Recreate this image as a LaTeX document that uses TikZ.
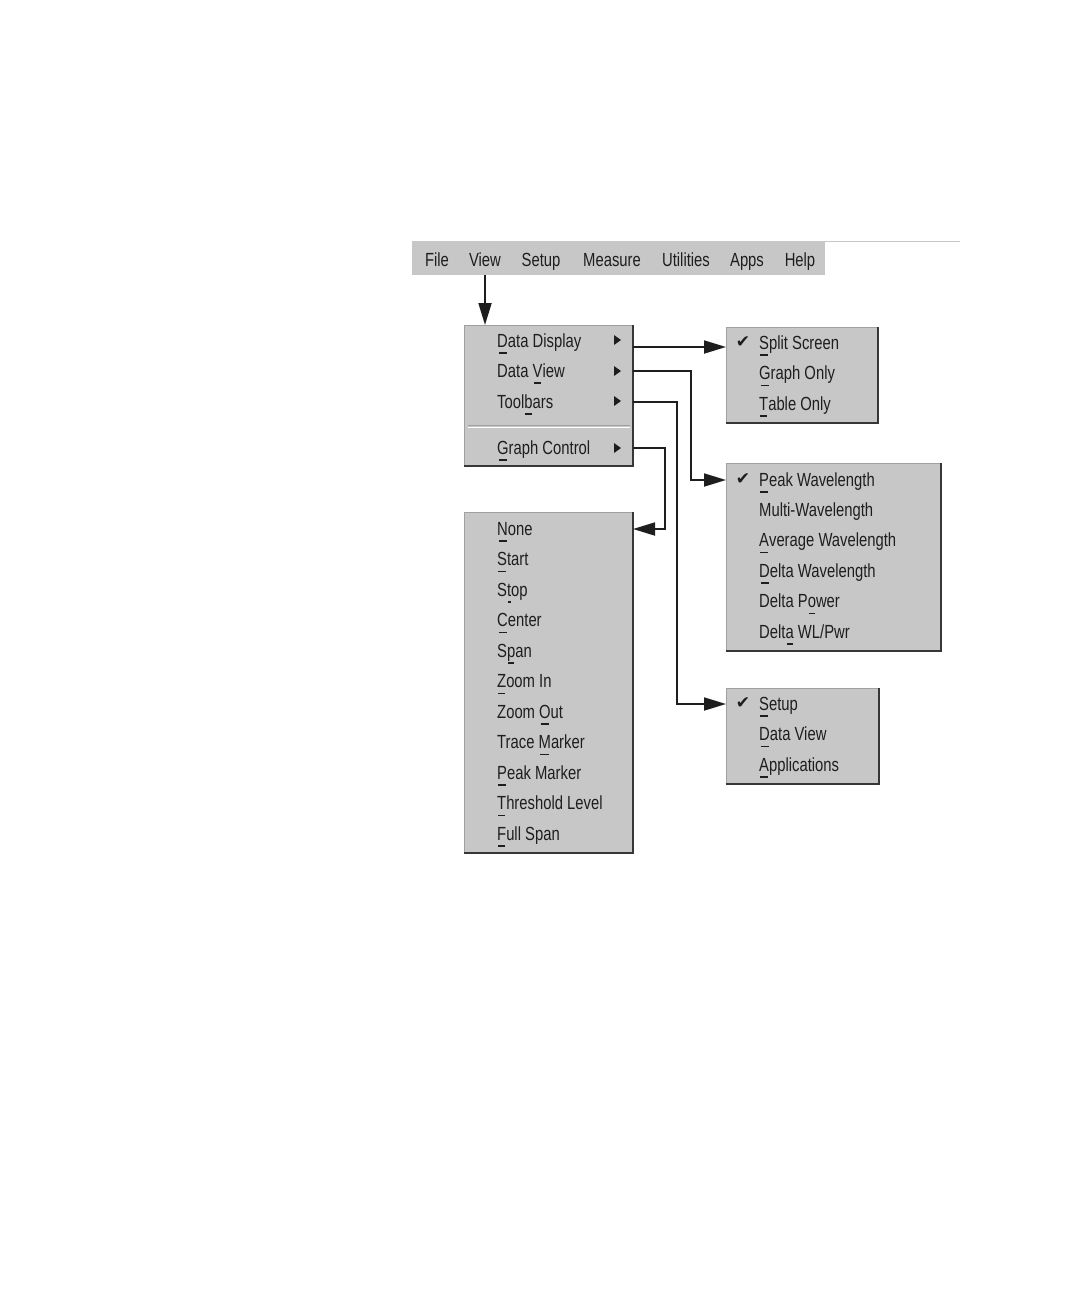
\documentclass[tikz,border=0pt]{standalone}
\usepackage{fontspec}
\newfontfamily\menufont{Liberation Sans}[FakeStretch=0.78]
\newfontfamily\symfont{DejaVu Sans}
\usepackage{tikz}
\usetikzlibrary{arrows.meta,calc}
\definecolor{menugray}{RGB}{199,199,199}
\definecolor{ink}{RGB}{30,30,30}
\definecolor{edgedark}{RGB}{55,55,55}
\definecolor{edgelight}{RGB}{160,160,160}
% underlined access letter
\newsavebox\mnbox
\newcommand\mn[1]{\sbox\mnbox{#1}\rlap{\hbox to\wd\mnbox{\hss\rule[-6.5pt]{0.75\wd\mnbox}{1.4pt}\hss}}\usebox\mnbox}

\begin{document}
\begin{tikzpicture}[x=1pt, y=-1pt,
  panel/.style={rectangle, fill=menugray, draw=edgelight, line width=1pt,
                inner sep=0pt, outer sep=0pt},
  item/.style={font=\menufont\fontsize{19}{22}\selectfont, text=ink,
               inner sep=0pt, text height=14pt, text depth=2pt, anchor=west},
  baritem/.style={item, anchor=center},
  tick/.style={font=\symfont\fontsize{17}{17}\selectfont, text=ink, inner sep=0pt},
  conn/.style={-{Triangle[length=22pt,width=13pt]}, line width=1.8pt, draw=ink},
  pointer/.pic={\fill[ink] (-3,-5) -- (4,0) -- (-3,5) -- cycle;}
]
\useasboundingbox (0,0) rectangle (1080,1296);

% Menu bar
\draw[edgelight!60, line width=1pt] (412,241) -- (960,241);
\node[panel, draw=none, minimum width=413pt, minimum height=34pt] (bar) at (618.5,258) {};
\foreach \n/\x/\t in {mFile/437/File, mView/485/View, mSetup/541/Setup,
                      mMeasure/612/Measure, mUtil/686/Utilities, mApps/747/Apps, mHelp/800/Help}
  \node[baritem] (\n) at (\x,260) {\t};

% Panels
\node[panel, minimum width=169pt, minimum height=141pt] (main)      at (548.5,395.5) {};
\node[panel, minimum width=169pt, minimum height=341pt] (gcPanel)   at (548.5,682.5) {};
\node[panel, minimum width=152pt, minimum height=96pt]  (dispPanel) at (802,375) {};
\node[panel, minimum width=215pt, minimum height=188pt] (viewPanel) at (833.5,557) {};
\node[panel, minimum width=153pt, minimum height=96pt]  (toolPanel) at (802.5,736) {};
\foreach \p in {main,gcPanel,dispPanel,viewPanel,toolPanel}
  \draw[edgedark, line width=1.6pt] (\p.north east) -- (\p.south east) -- (\p.south west);

% View menu
\node[item] (dd) at (497,341) {\mn{D}ata Display};
\node[item] (dv) at (497,371) {Data \mn{V}iew};
\node[item] (tb) at (497,402) {Tool\mn{b}ars};
\node[item] (gc) at (497,448) {\mn{G}raph Control};
\foreach \y in {340,371,401,448}
  \pic at (617,\y) {pointer};
\draw[edgelight, line width=1pt] (468,425) -- (630,425);
\draw[white, line width=1pt] (468,427) -- (630,427);

% Graph Control menu
\foreach \t [count=\i] in {\mn{N}one, \mn{S}tart, S\mn{t}op, \mn{C}enter, S\mn{p}an,
                           \mn{Z}oom In, Zoom \mn{O}ut, Trace \mn{M}arker, \mn{P}eak Marker,
                           \mn{T}hreshold Level, \mn{F}ull Span}
  \node[item] (gc-\i) at (497,{529+30.5*(\i-1)}) {\t};

% Data Display menu
\foreach \t [count=\i] in {\mn{S}plit Screen, \mn{G}raph Only, \mn{T}able Only}
  \node[item] (dp-\i) at (759,{343+30.5*(\i-1)}) {\t};
\node[tick] (ckDisp) at (743,342) {✔};

% Data View menu
\foreach \t [count=\i] in {\mn{P}eak Wavelength, Multi-Wavelength, \mn{A}verage Wavelength,
                           \mn{D}elta Wavelength, Delta P\mn{o}wer, Delt\mn{a} WL/Pwr}
  \node[item] (vw-\i) at (759,{480+30.4*(\i-1)}) {\t};
\node[tick] (ckView) at (743,479) {✔};

% Toolbars menu
\foreach \t [count=\i] in {\mn{S}etup, \mn{D}ata View, \mn{A}pplications}
  \node[item] (tl-\i) at (759,{704+30.5*(\i-1)}) {\t};
\node[tick] (ckTool) at (743,703) {✔};

% Arrows
\draw[conn] (mView |- bar.south) -- (mView |- main.north);
\draw[conn] ($(main.east |- dd)+(0,6)$) -- ($(dispPanel.west |- dd)+(0,6)$);
\draw[conn] (main.east |- dv) -- ++(58,0) |- (viewPanel.west |- vw-1);
\draw[conn] (main.east |- tb) -- ++(44,0) |- (toolPanel.west |- tl-1);
\draw[conn] (main.east |- gc) -- ++(32,0) |- (gcPanel.east |- gc-1);
\end{tikzpicture}
\end{document}
